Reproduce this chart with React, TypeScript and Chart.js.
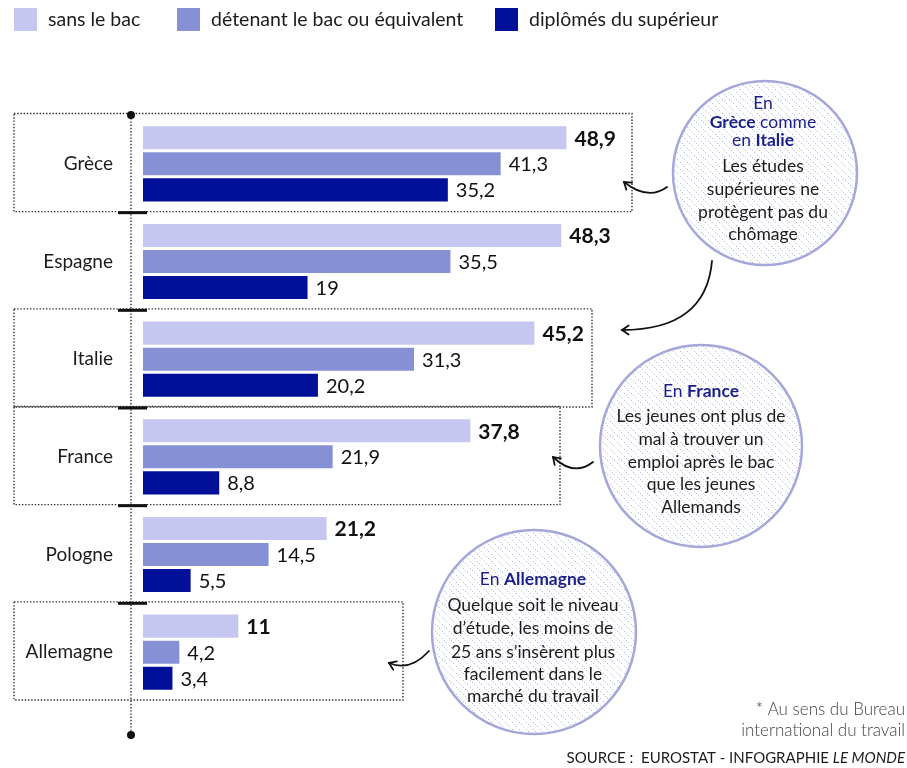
import { useEffect, useRef } from "react";
import { Chart, registerables } from "chart.js";

Chart.register(...registerables);

// ---------- data ----------
const categories = ["Grèce", "Espagne", "Italie", "France", "Pologne", "Allemagne"];
const sansBac = [48.9, 48.3, 45.2, 37.8, 21.2, 11];
const bacEquivalent = [41.3, 35.5, 31.3, 21.9, 14.5, 4.2];
const diplomesSuperieur = [35.2, 19, 20.2, 8.8, 5.5, 3.4];
const seriesLabels = ["sans le bac", "détenant le bac ou équivalent", "diplômés du supérieur"];
const seriesColors = ["#c5c7f1", "#8690d4", "#020f99"];

const FONT = "Lato, 'Noto Sans', sans-serif";
const TEXT = "#1c1c1c";
const BLUE = "#1b1f8c";

const fmt = (v: number) => String(v).replace(".", ",");

type Seg = { t: string; bold?: boolean; blue?: boolean };
type Line = { y: number; segs: Seg[] };

const bubbles: { cx: number; cy: number; r: number; tx: number; lines: Line[] }[] = [
  {
    cx: 765, cy: 173, r: 92, tx: 763,
    lines: [
      { y: 103, segs: [{ t: "En", blue: true }] },
      { y: 122, segs: [{ t: "Grèce", bold: true, blue: true }, { t: " comme", blue: true }] },
      { y: 140, segs: [{ t: "en ", blue: true }, { t: "Italie", bold: true, blue: true }] },
      { y: 166, segs: [{ t: "Les études" }] },
      { y: 189, segs: [{ t: "supérieures ne" }] },
      { y: 212, segs: [{ t: "protègent pas du" }] },
      { y: 234, segs: [{ t: "chômage" }] },
    ],
  },
  {
    cx: 701, cy: 446, r: 101, tx: 701,
    lines: [
      { y: 391, segs: [{ t: "En ", blue: true }, { t: "France", bold: true, blue: true }] },
      { y: 416, segs: [{ t: "Les jeunes ont plus de" }] },
      { y: 439, segs: [{ t: "mal à trouver un" }] },
      { y: 462, segs: [{ t: "emploi après le bac" }] },
      { y: 484, segs: [{ t: "que les jeunes" }] },
      { y: 507, segs: [{ t: "Allemands" }] },
    ],
  },
  {
    cx: 534, cy: 632, r: 102, tx: 533,
    lines: [
      { y: 579, segs: [{ t: "En ", blue: true }, { t: "Allemagne", bold: true, blue: true }] },
      { y: 605, segs: [{ t: "Quelque soit le niveau" }] },
      { y: 628, segs: [{ t: "d’étude, les moins de" }] },
      { y: 652, segs: [{ t: "25 ans s’insèrent plus" }] },
      { y: 674, segs: [{ t: "facilement dans le" }] },
      { y: 696, segs: [{ t: "marché du travail" }] },
    ],
  },
];

// dotted frames: category index and right edge
const frames = [
  { idx: 0, right: 632 },
  { idx: 2, right: 592 },
  { idx: 3, right: 560 },
  { idx: 5, right: 403 },
];

// curved arrows: [start, control, end]
const arrows: number[][] = [
  [667, 187, 648, 201, 624, 182],
  [712, 261, 706, 330, 622, 330],
  [593, 462, 574, 477, 553, 457],
  [429, 651, 410, 672, 389, 663],
];

function drawRich(ctx: CanvasRenderingContext2D, segs: Seg[], cx: number, y: number, size: number) {
  const fonts = segs.map((s) => `${s.bold ? "bold " : ""}${size}px ${FONT}`);
  let total = 0;
  const widths = segs.map((s, i) => {
    ctx.font = fonts[i];
    const w = ctx.measureText(s.t).width;
    total += w;
    return w;
  });
  let x = cx - total / 2;
  ctx.textAlign = "left";
  ctx.textBaseline = "middle";
  segs.forEach((s, i) => {
    ctx.font = fonts[i];
    ctx.fillStyle = s.blue ? BLUE : TEXT;
    ctx.fillText(s.t, x, y);
    x += widths[i];
  });
}

function makeHatch(ctx: CanvasRenderingContext2D) {
  const c = document.createElement("canvas");
  const n = 7;
  c.width = n;
  c.height = n;
  const p = c.getContext("2d")!;
  p.fillStyle = "#ffffff";
  p.fillRect(0, 0, n, n);
  p.strokeStyle = "#b9c1dc";
  p.lineWidth = 1;
  p.setLineDash([1.6, 1.2]);
  p.beginPath();
  p.moveTo(-1, -1);
  p.lineTo(n + 1, n + 1);
  p.stroke();
  p.beginPath();
  p.moveTo(-1, n - 1);
  p.lineTo(1, n + 1);
  p.moveTo(n - 1, -1);
  p.lineTo(n + 1, 1);
  p.stroke();
  return ctx.createPattern(c, "repeat");
}

const decorPlugin = {
  id: "decor",
  beforeDatasetsDraw(chart: any) {
    const ctx: CanvasRenderingContext2D = chart.ctx;
    const y = chart.scales.y;
    const half = (y.getPixelForValue(1) - y.getPixelForValue(0)) / 2;
    ctx.save();
    ctx.strokeStyle = "#2a2a2a";
    ctx.lineWidth = 1.4;
    ctx.setLineDash([1.4, 1.8]);
    frames.forEach((f) => {
      const c = y.getPixelForValue(f.idx);
      const top = c - half - 1.5;
      const bottom = c + half - 1;
      ctx.strokeRect(14, top, f.right - 14, bottom - top);
    });
    // vertical dotted axis
    const ax = chart.chartArea.left - 12;
    ctx.beginPath();
    ctx.moveTo(ax, chart.chartArea.top);
    ctx.lineTo(ax, chart.chartArea.bottom + 34);
    ctx.stroke();
    ctx.restore();
  },
  afterDraw(chart: any) {
    const ctx: CanvasRenderingContext2D = chart.ctx;
    const y = chart.scales.y;
    const area = chart.chartArea;
    const ax = area.left - 12;
    ctx.save();

    // axis end dots
    ctx.fillStyle = "#111";
    [area.top, area.bottom + 34].forEach((py) => {
      ctx.beginPath();
      ctx.arc(ax, py, 4, 0, Math.PI * 2);
      ctx.fill();
    });
    // category separator ticks
    ctx.strokeStyle = "#111";
    ctx.lineWidth = 3;
    for (let i = 0; i < categories.length - 1; i++) {
      const py = (y.getPixelForValue(i) + y.getPixelForValue(i + 1)) / 2;
      ctx.beginPath();
      ctx.moveTo(ax - 13, py);
      ctx.lineTo(ax + 16, py);
      ctx.stroke();
    }

    // value labels
    chart.data.datasets.forEach((ds: any, di: number) => {
      const meta = chart.getDatasetMeta(di);
      meta.data.forEach((bar: any, i: number) => {
        const v = ds.data[i];
        ctx.font = di === 0 ? `bold 21px ${FONT}` : `20px ${FONT}`;
        ctx.fillStyle = "#111";
        ctx.textAlign = "left";
        ctx.textBaseline = "middle";
        ctx.fillText(fmt(v), bar.x + 8, bar.y + 1);
      });
    });

    // legend
    const legX = [14, 177, 495];
    seriesLabels.forEach((lab, i) => {
      ctx.fillStyle = seriesColors[i];
      ctx.fillRect(legX[i], 8, 23, 23);
      ctx.fillStyle = TEXT;
      ctx.font = `19.5px ${FONT}`;
      ctx.textAlign = "left";
      ctx.textBaseline = "middle";
      ctx.fillText(lab, legX[i] + 34, 20);
    });

    // bubbles
    const hatch = makeHatch(ctx);
    bubbles.forEach((b) => {
      ctx.beginPath();
      ctx.arc(b.cx, b.cy, b.r, 0, Math.PI * 2);
      ctx.fillStyle = hatch || "#fff";
      ctx.fill();
      ctx.lineWidth = 2.5;
      ctx.strokeStyle = "#a3a7da";
      ctx.stroke();
      b.lines.forEach((ln) => drawRich(ctx, ln.segs, b.tx, ln.y, 17.5));
    });

    // arrows
    ctx.strokeStyle = "#111";
    ctx.lineWidth = 1.8;
    ctx.lineCap = "round";
    arrows.forEach((a) => {
      const [x0, y0, cx, cy, x1, y1] = a;
      ctx.beginPath();
      ctx.moveTo(x0, y0);
      ctx.quadraticCurveTo(cx, cy, x1, y1);
      ctx.stroke();
      const ang = Math.atan2(y1 - cy, x1 - cx);
      const L = 8;
      ctx.beginPath();
      ctx.moveTo(x1 - L * Math.cos(ang - 0.6), y1 - L * Math.sin(ang - 0.6));
      ctx.lineTo(x1, y1);
      ctx.lineTo(x1 - L * Math.cos(ang + 0.6), y1 - L * Math.sin(ang + 0.6));
      ctx.stroke();
    });

    // footnote & source
    ctx.textAlign = "right";
    ctx.textBaseline = "middle";
    ctx.fillStyle = "#444";
    ctx.font = `300 17px ${FONT}`;
    ctx.fillText("* Au sens du Bureau", 905, 710);
    ctx.fillText("international du travail", 905, 731);
    ctx.fillStyle = TEXT;
    ctx.font = `italic 15px ${FONT}`;
    const italic = "LE MONDE";
    const wItalic = ctx.measureText(italic).width;
    ctx.fillText(italic, 905, 758);
    ctx.font = `15px ${FONT}`;
    ctx.fillText("SOURCE :  EUROSTAT - INFOGRAPHIE ", 905 - wItalic, 758);

    ctx.restore();
  },
};

export default function App() {
  const ref = useRef<HTMLCanvasElement | null>(null);
  useEffect(() => {
    document.body.style.margin = "0";
    const canvas = ref.current;
    if (!canvas) return;
    const scalePx = 8.66; // pixels per percentage point
    const xMax = 60;
    const left = 143;
    const chart = new Chart(canvas, {
      type: "bar",
      data: {
        labels: categories,
        datasets: [
          { label: seriesLabels[0], data: sansBac, backgroundColor: seriesColors[0] },
          { label: seriesLabels[1], data: bacEquivalent, backgroundColor: seriesColors[1] },
          { label: seriesLabels[2], data: diplomesSuperieur, backgroundColor: seriesColors[2] },
        ],
      },
      options: {
        indexAxis: "y",
        animation: false,
        responsive: false,
        events: [],
        datasets: { bar: { categoryPercentage: 0.8, barPercentage: 0.885 } },
        layout: {
          padding: { top: 115, bottom: 67, left: 0, right: 907 - (left + xMax * scalePx) },
        },
        plugins: { legend: { display: false }, tooltip: { enabled: false } },
        scales: {
          x: { display: false, min: 0, max: xMax },
          y: {
            grid: { display: false },
            border: { display: false },
            afterFit: (s: any) => {
              s.width = left;
            },
            ticks: {
              padding: 22,
              color: TEXT,
              font: { family: FONT, size: 19 },
            },
          },
        },
      },
      plugins: [decorPlugin],
    } as any);
    return () => chart.destroy();
  }, []);
  return (
    <div style={{ position: "absolute", left: 0, top: 0, width: 907, height: 768, background: "#fff" }}>
      <canvas ref={ref} width={907} height={768} style={{ display: "block" }} />
    </div>
  );
}
